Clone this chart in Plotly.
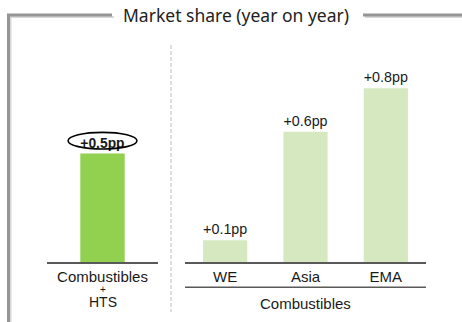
import plotly.graph_objects as go

# Market share change, year on year (percentage points)
total_categories = ["Combustibles + HTS"]
total_values = [0.5]

region_categories = ["WE", "Asia", "EMA"]
region_values = [0.1, 0.6, 0.8]

TITLE = "Market share (year on year)"
GROUP_LABEL = "Combustibles"

W, H = 462, 322
BASE_PX = 262          # baseline, pixels from top
PX_PER_UNIT = 217.2    # vertical scale

FONT = "Liberation Sans, Arial, sans-serif"
DARK = "#1a1a1a"
AXIS_LINE = "#595959"
FRAME = "#959595"
FRAME_SHADOW = "#d8d8d8"


def py(px):
    """Pixel row (from top) -> paper y."""
    return (H - px) / H


def px_x(px):
    """Pixel column -> paper x."""
    return px / W


y_dom = [py(BASE_PX), 1.0]
y_top = BASE_PX / PX_PER_UNIT

fig = go.Figure()

fig.add_trace(go.Bar(
    x=total_categories, y=total_values,
    xaxis="x", yaxis="y",
    width=0.4,
    marker=dict(color="#92D050", line=dict(width=0)),
    text=[f"<b>+{v}pp</b>" for v in total_values],
    textposition="outside",
    textfont=dict(family=FONT, size=14.5, color=DARK),
    cliponaxis=False,
    showlegend=False,
))

fig.add_trace(go.Bar(
    x=region_categories, y=region_values,
    xaxis="x2", yaxis="y2",
    width=0.55,
    marker=dict(color="#D5E8C0", line=dict(width=0)),
    text=[f"+{v}pp" for v in region_values],
    textposition="outside",
    textfont=dict(family=FONT, size=14.5, color=DARK),
    cliponaxis=False,
    showlegend=False,
))

axis_common = dict(
    showline=True, linecolor=AXIS_LINE, linewidth=1.5,
    showgrid=False, zeroline=False, ticks="",
    tickfont=dict(family=FONT, size=15, color=DARK),
    fixedrange=True,
)
yaxis_common = dict(
    domain=y_dom, range=[0, y_top], visible=False, fixedrange=True,
)

fig.update_layout(
    width=W, height=H,
    margin=dict(l=0, r=0, t=0, b=0),
    paper_bgcolor="white", plot_bgcolor="white",
    xaxis=dict(
        domain=[px_x(47), px_x(158)], range=[-0.5, 0.5],
        tickvals=total_categories, ticktext=["Combustibles"],
        anchor="y", **axis_common,
    ),
    yaxis=dict(anchor="x", **yaxis_common),
    xaxis2=dict(
        domain=[px_x(185), px_x(426)], range=[-0.5, 2.5],
        anchor="y2", **axis_common,
    ),
    yaxis2=dict(anchor="x2", **yaxis_common),
)

shapes = []

# frame: left edge and top edge broken by the title
frame_segments = [
    (8.5, 15, 8.5, H),      # left edge
    (7, 15, 112, 15),       # top edge, left of title
    (363, 15, W, 15),       # top edge, right of title
]
for x0, y0, x1, y1 in frame_segments:
    shapes.append(dict(type="line", xref="paper", yref="paper",
                       x0=px_x(x0 + 2), y0=py(y0 + 2), x1=px_x(x1 + 2), y1=py(y1 + 2),
                       line=dict(color=FRAME_SHADOW, width=2)))
for x0, y0, x1, y1 in frame_segments:
    shapes.append(dict(type="line", xref="paper", yref="paper",
                       x0=px_x(x0), y0=py(y0), x1=px_x(x1), y1=py(y1),
                       line=dict(color=FRAME, width=3)))

# dashed divider between the two panels
shapes.append(dict(type="line", xref="paper", yref="paper",
                   x0=px_x(171), x1=px_x(171), y0=py(45), y1=py(312),
                   line=dict(color="#bdbdbd", width=1, dash="4px,2px")))

# bracket line under the regional categories
shapes.append(dict(type="line", xref="x2 domain", yref="paper",
                   x0=0, x1=1, y0=py(287.3), y1=py(287.3),
                   line=dict(color=AXIS_LINE, width=1.5)))

# ring around the headline value
v0 = total_values[0]
shapes.append(dict(type="circle", xref="x", yref="y",
                   x0=-0.31, x1=0.31, y0=v0 + 0.02, y1=v0 + 0.097,
                   line=dict(color="black", width=1.6)))

fig.update_layout(shapes=shapes)

annotations = [
    dict(text=TITLE, xref="paper", yref="paper", x=px_x(236), y=py(15),
         xanchor="center", yanchor="middle", showarrow=False,
         font=dict(family="Noto Sans, sans-serif", size=17.5, color="#222222")),
    dict(text="+", xref="x domain", yref="paper", x=0.5, y=py(289.5),
         xanchor="center", yanchor="middle", showarrow=False,
         font=dict(family=FONT, size=10, color=DARK)),
    dict(text="HTS", xref="x domain", yref="paper", x=0.5, y=py(302),
         xanchor="center", yanchor="middle", showarrow=False,
         font=dict(family=FONT, size=14, color=DARK)),
    dict(text=GROUP_LABEL, xref="x2 domain", yref="paper", x=0.5, y=py(303),
         xanchor="center", yanchor="middle", showarrow=False,
         font=dict(family=FONT, size=15, color=DARK)),
]
fig.update_layout(annotations=annotations)

fig.write_html("out.html")
